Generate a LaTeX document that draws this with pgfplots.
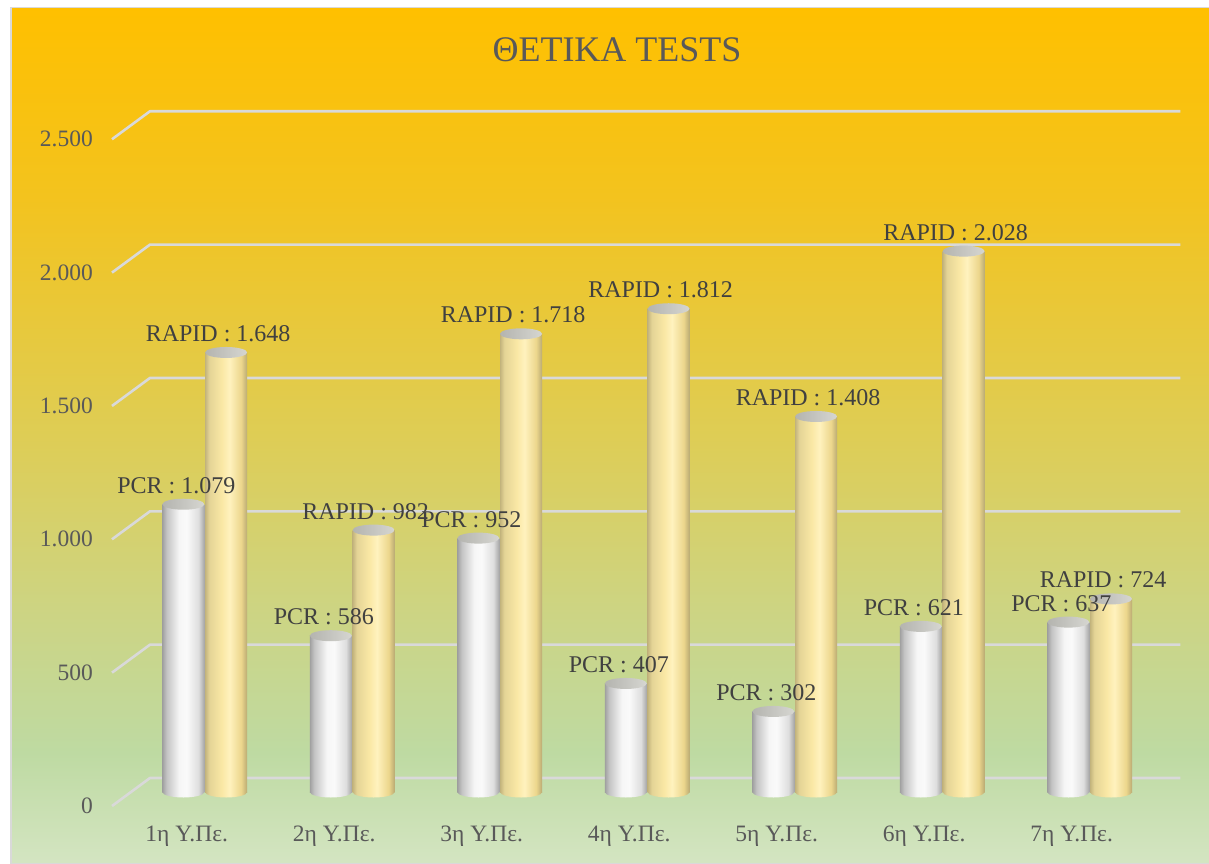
\documentclass[border=0pt]{standalone}
\usepackage{pgfplots}
\pgfplotsset{compat=1.18}
\usepackage{pgfplotstable}
\usepackage{fontspec}
\setmainfont{Liberation Serif}

\definecolor{gridc}{RGB}{217,217,217}
\definecolor{txt}{RGB}{89,89,89}
\definecolor{lab}{RGB}{64,64,64}

\definecolor{bg0}{RGB}{212,229,194}
\definecolor{bg1}{RGB}{190,218,162}
\definecolor{bg2}{RGB}{205,212,130}
\definecolor{bg3}{RGB}{222,205,85}
\definecolor{bg4}{RGB}{243,195,30}
\definecolor{bg5}{RGB}{255,192,0}
\pgfdeclareverticalshading{bgshade}{100bp}{color(0bp)=(bg0); color(25bp)=(bg0); color(31.5bp)=(bg1); color(40bp)=(bg2); color(50bp)=(bg3); color(64bp)=(bg4); color(75bp)=(bg5); color(100bp)=(bg5)}

\definecolor{p0}{RGB}{160,160,160}
\definecolor{p1}{RGB}{195,195,195}
\definecolor{p2}{RGB}{246,246,246}
\definecolor{p3}{RGB}{250,250,250}
\definecolor{p4}{RGB}{222,222,222}
\definecolor{p5}{RGB}{165,165,165}
\pgfdeclarehorizontalshading{pcrsh}{100bp}{color(0bp)=(p0); color(25bp)=(p0); color(30bp)=(p1); color(45bp)=(p2); color(54bp)=(p3); color(68bp)=(p4); color(75bp)=(p5); color(100bp)=(p5)}

\definecolor{r0}{RGB}{195,180,125}
\definecolor{r1}{RGB}{228,212,150}
\definecolor{r2}{RGB}{250,232,165}
\definecolor{r3}{RGB}{255,242,190}
\definecolor{r4}{RGB}{236,214,140}
\definecolor{r5}{RGB}{185,170,115}
\pgfdeclarehorizontalshading{rapsh}{100bp}{color(0bp)=(r0); color(25bp)=(r0); color(30bp)=(r1); color(45bp)=(r2); color(54bp)=(r3); color(68bp)=(r4); color(75bp)=(r5); color(100bp)=(r5)}

\definecolor{t0}{RGB}{180,180,175}
\definecolor{t1}{RGB}{214,214,209}
\pgfdeclarehorizontalshading{topsh}{100bp}{color(0bp)=(t0); color(25bp)=(t0); color(75bp)=(t1); color(100bp)=(t1)}

\pgfdeclareplotmark{ellpcr}{\pgfpathellipse{\pgfpointorigin}{\pgfqpoint{21pt}{0pt}}{\pgfqpoint{0pt}{5.5pt}}\pgfshadepath{pcrsh}{0}\pgfusepath{discard}}
\pgfdeclareplotmark{ellrap}{\pgfpathellipse{\pgfpointorigin}{\pgfqpoint{21pt}{0pt}}{\pgfqpoint{0pt}{5.5pt}}\pgfshadepath{rapsh}{0}\pgfusepath{discard}}
\pgfdeclareplotmark{elltop}{\pgfpathellipse{\pgfpointorigin}{\pgfqpoint{21pt}{0pt}}{\pgfqpoint{0pt}{5.5pt}}\pgfshadepath{topsh}{0}\pgfusepath{discard}}

\newcommand\cyl[3]{%
  \addplot[only marks, mark=ell#3, forget plot] coordinates {(#1,0)};
  \addplot[ybar, bar width=42pt, bar shift=0pt, draw=none, shade, shading=#3sh, forget plot] coordinates {(#1,#2)};
  \addplot[only marks, mark=elltop, forget plot] coordinates {(#1,#2)};
}

\pgfplotstableread{
x pcr rapid
0 1079 1648
1 586 982
2 952 1718
3 407 1812
4 302 1408
5 621 2028
6 637 724
}\data

\begin{document}
\begin{tikzpicture}
\useasboundingbox (0,0) rectangle (1209pt,863pt);
\fill[white] (0,0) rectangle (1209pt,863pt);
\path[shading=bgshade, draw=gridc, line width=1.5pt] (10.75pt,-1pt) rectangle (1210pt,855.25pt);
\node[font=\fontsize{36}{42}\selectfont, text=txt, anchor=base] at (617pt,801pt) {ΘΕΤΙΚΑ TESTS};
\begin{axis}[
  at={(131pt,71pt)}, anchor=south west,
  scale only axis, width=1032.5pt, height=666.75pt,
  xmin=-0.5, xmax=6.5, ymin=0, ymax=2500,
  enlargelimits=false, clip=false,
  axis line style={draw=none}, tick style={draw=none}, major tick length=0pt,
  xtick={0,...,6},
  xticklabels={1η Υ.Πε., 2η Υ.Πε., 3η Υ.Πε., 4η Υ.Πε., 5η Υ.Πε., 6η Υ.Πε., 7η Υ.Πε.},
  ytick={0,500,1000,1500,2000,2500},
  xticklabel style={anchor=base, inner sep=0pt, yshift=-49pt, xshift=-18pt, font=\fontsize{23.5}{28}\selectfont, text=txt},
  yticklabel style={anchor=east, inner sep=0pt, xshift=-38pt, yshift=-14pt, font=\fontsize{23.5}{28}\selectfont, text=txt},
  /pgf/number format/.cd, 1000 sep={.}, fixed, precision=0, assume math mode=true
]
\pgfplotsinvokeforeach{0,500,1000,1500,2000,2500}{
  \draw[gridc, line width=2.6pt, line join=round]
    ([xshift=-19pt,yshift=-14pt]axis cs:-0.5,#1) --
    ([xshift=19pt,yshift=14pt]axis cs:-0.5,#1) --
    ([xshift=17pt,yshift=14pt]axis cs:6.5,#1);
}
\cyl{-0.145}{1079}{pcr}
\cyl{0.145}{1648}{rap}
\cyl{0.855}{586}{pcr}
\cyl{1.145}{982}{rap}
\cyl{1.855}{952}{pcr}
\cyl{2.145}{1718}{rap}
\cyl{2.855}{407}{pcr}
\cyl{3.145}{1812}{rap}
\cyl{3.855}{302}{pcr}
\cyl{4.145}{1408}{rap}
\cyl{4.855}{621}{pcr}
\cyl{5.145}{2028}{rap}
\cyl{5.855}{637}{pcr}
\cyl{6.145}{724}{rap}

\addplot[draw=none, mark=none,
  nodes near coords={PCR : \pgfmathprintnumber{\pgfplotspointmeta}},
  every node near coord/.style={anchor=base, inner sep=0pt, xshift=-7pt, yshift=11pt, font=\fontsize{24}{28}\selectfont, text=lab}]
  table[x expr=\thisrow{x}-0.145, y=pcr] {\data};
\addplot[draw=none, mark=none,
  nodes near coords={RAPID : \pgfmathprintnumber{\pgfplotspointmeta}},
  every node near coord/.style={anchor=base, inner sep=0pt, xshift=-8pt, yshift=11pt, font=\fontsize{24}{28}\selectfont, text=lab}]
  table[x expr=\thisrow{x}+0.145, y=rapid] {\data};
\end{axis}
\end{tikzpicture}
\end{document}
